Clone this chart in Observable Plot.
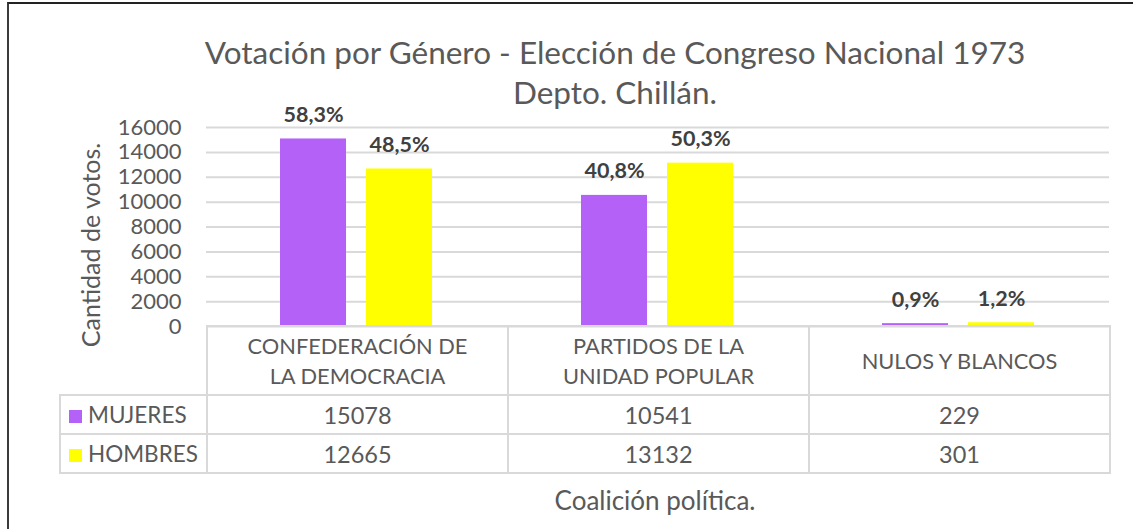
<!DOCTYPE html>
<html><head><meta charset="utf-8">
<script src="https://cdn.jsdelivr.net/npm/d3@7"></script>
<script src="https://cdn.jsdelivr.net/npm/@observablehq/plot@0.6"></script>
<style>
body{margin:0;background:#fff;font-family:Lato,"Open Sans",sans-serif;}
#wrap{position:relative;width:1133px;height:529px;overflow:hidden;background:#fff;}
#frame{position:absolute;left:7px;top:2px;width:1200px;height:600px;border-left:2px solid #3b3b3b;border-top:2px solid #222;}
#title{position:absolute;left:115px;width:1000px;top:32px;text-align:center;font-size:31.5px;line-height:40px;color:#595959;}
#ylabel{position:absolute;left:90px;top:245px;transform:translate(-50%,-50%) rotate(-90deg);white-space:nowrap;font-size:25px;color:#595959;}
#xlabel{position:absolute;left:655px;top:500px;transform:translate(-50%,-50%);white-space:nowrap;font-size:26px;color:#595959;}
#chart{position:absolute;left:0;top:100px;}
#tbl{position:absolute;border-collapse:collapse;table-layout:fixed;color:#595959;}
#tbl td{border:2px solid #d9d9d9;text-align:center;padding:0;font-size:23.5px;}
#tbl td.h{font-size:21.8px;line-height:30px;height:67px;}
#tbl td.r{height:37px;}
#tbl td.lab{text-align:left;font-size:22.5px;padding-left:8px;white-space:nowrap;}
#tbl td.corner{border-top:none;border-left:none;}
.sw{display:inline-block;width:13px;height:13px;margin-right:6px;vertical-align:0px;}
</style></head><body>
<div id="wrap">
  <div id="frame"></div>
  <div id="title">Votación por Género - Elección de Congreso Nacional 1973<br>Depto. Chillán.</div>
  <div id="ylabel">Cantidad de votos.</div>
  <div id="chart"></div>
  <table id="tbl"></table>
  <div id="xlabel">Coalición política.</div>
</div>
<script>
const coaliciones = ["CONFEDERACIÓN DE LA DEMOCRACIA", "PARTIDOS DE LA UNIDAD POPULAR", "NULOS Y BLANCOS"];
const coalicionLineas = [["CONFEDERACIÓN DE", "LA DEMOCRACIA"], ["PARTIDOS DE LA", "UNIDAD POPULAR"], ["NULOS Y BLANCOS"]];
const generos = ["MUJERES", "HOMBRES"];
const mujeres = [15078, 10541, 229];
const hombres = [12665, 13132, 301];
const colores = ["#b461f8", "#ffff00"];
const yTicks = [0, 2000, 4000, 6000, 8000, 10000, 12000, 14000, 16000];

const series = {MUJERES: mujeres, HOMBRES: hombres};
const fmtPct = v => (v * 100).toFixed(1).replace(".", ",") + "%";
const rows = [];
for (const g of generos) {
  const vals = series[g];
  const total = d3.sum(vals);
  coaliciones.forEach((c, i) => rows.push({coalicion: c, genero: g, votos: vals[i], pct: fmtPct(vals[i] / total)}));
}

const plot = Plot.plot({
  width: 1133, height: 230,
  marginTop: 27, marginBottom: 4, marginLeft: 205, marginRight: 23,
  style: {fontFamily: "Lato, sans-serif", color: "#595959", background: "transparent", overflow: "visible"},
  fx: {domain: coaliciones, padding: 0, axis: null},
  x: {domain: generos, paddingInner: 0.23, paddingOuter: 0.85, axis: null},
  y: {domain: [0, 16000], axis: null},
  color: {domain: generos, range: colores},
  marks: [
    Plot.gridY(yTicks, {stroke: "#d9d9d9", strokeOpacity: 1, strokeWidth: 2}),
    Plot.barY(rows, {fx: "coalicion", x: "genero", y: "votos", fill: "genero"}),
    Plot.text(rows, {fx: "coalicion", x: "genero", y: "votos", text: "pct", dy: -24, fontWeight: "bold", fontSize: 21.5, fill: "#404040"}),
    Plot.axisY({ticks: yTicks, tickSize: 0, tickPadding: 25, tickFormat: d => String(d), fontSize: 22, label: null, fill: "#595959"})
  ]
});
document.getElementById("chart").appendChild(plot);

// Data table aligned to the facet scale
const fx = plot.scale("fx");
const bw = fx.bandwidth;
const left0 = 59;
const firstW = fx.apply(coaliciones[0]) - left0;
const tbl = document.getElementById("tbl");
tbl.style.left = left0 + "px";
tbl.style.top = "325px";
const cg = document.createElement("colgroup");
[firstW, bw, bw, bw].forEach(w => { const c = document.createElement("col"); c.style.width = w + "px"; cg.appendChild(c); });
tbl.appendChild(cg);
let tr = document.createElement("tr");
let td = document.createElement("td"); td.className = "h corner"; tr.appendChild(td);
coalicionLineas.forEach(lines => { const t = document.createElement("td"); t.className = "h"; t.innerHTML = lines.join("<br>"); tr.appendChild(t); });
tbl.appendChild(tr);
generos.forEach((g, gi) => {
  const r = document.createElement("tr");
  const l = document.createElement("td"); l.className = "r lab";
  l.innerHTML = `<span class="sw" style="background:${colores[gi]}"></span>${g}`;
  r.appendChild(l);
  series[g].forEach(v => { const t = document.createElement("td"); t.className = "r"; t.textContent = v; r.appendChild(t); });
  tbl.appendChild(r);
});
</script>
</body></html>
